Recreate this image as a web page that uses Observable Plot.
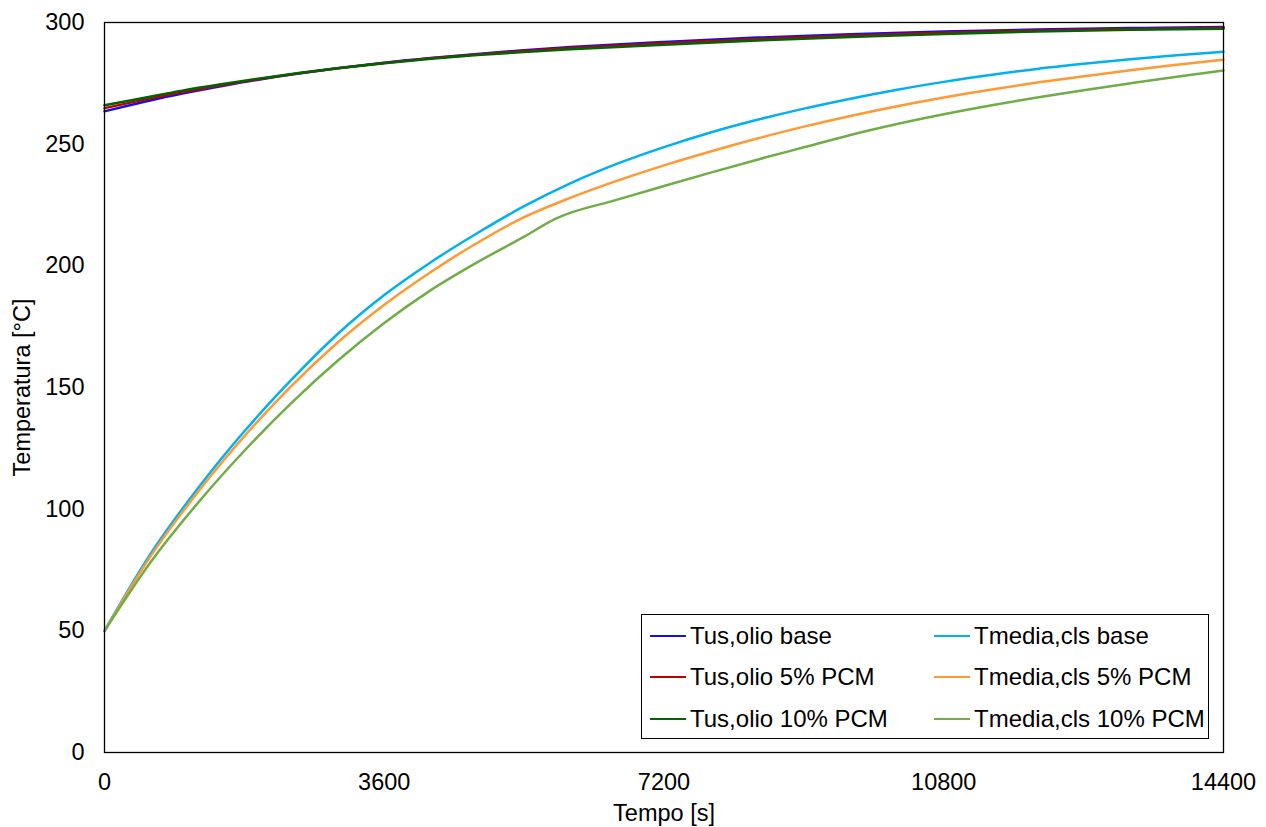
<!DOCTYPE html>
<html>
<head>
<meta charset="utf-8">
<script src="https://cdn.jsdelivr.net/npm/d3@7"></script>
<script src="https://cdn.jsdelivr.net/npm/@observablehq/plot@0.6"></script>
<style>
  body { margin: 0; background: #fff; }
  #wrap { position: relative; width: 1266px; height: 827px; font-family: 'Liberation Sans', Arial, sans-serif; }
  #legend { position: absolute; left: 641px; top: 614px; width: 568px; height: 125px; border: 1.3px solid #000; background: #fff; box-sizing: border-box; }
  .item { position: absolute; display: flex; align-items: center; font-size: 24px; color: #000; white-space: nowrap; }
  .sw { width: 36px; height: 2.5px; margin-right: 4px; }
</style>
</head>
<body>
<div id="wrap"><div id="legend"></div></div>
<script>
// ---- data ----
const xTicks = [0, 3600, 7200, 10800, 14400];
const yTicks = [0, 50, 100, 150, 200, 250, 300];

const seriesNames = ["Tus,olio base", "Tus,olio 5% PCM", "Tus,olio 10% PCM",
                     "Tmedia,cls base", "Tmedia,cls 5% PCM", "Tmedia,cls 10% PCM"];
const seriesColors = ["#1010E8", "#C00000", "#006400", "#00B0F0", "#FF9933", "#70AD47"];

const tUpper = [0, 500, 1000, 1500, 2000, 2500, 3000, 3600, 4200, 4800, 5400, 6000, 7200, 8400, 9600, 10800, 12000, 13200, 14400];
const tusBase = [263.5, 267.3, 270.8, 273.8, 276.6, 279.0, 281.2, 283.5, 285.4, 287.1, 288.6, 289.9, 292.0, 293.8, 295.2, 296.3, 297.1, 297.7, 298.2];
const tus5    = [264.8, 268.2, 271.4, 274.2, 276.8, 279.1, 281.2, 283.4, 285.3, 286.9, 288.3, 289.5, 291.5, 293.2, 294.6, 295.8, 296.7, 297.3, 297.8];
const tus10   = [266.0, 269.0, 272.0, 274.6, 277.0, 279.2, 281.2, 283.3, 285.1, 286.6, 287.9, 289.0, 290.9, 292.6, 294.0, 295.3, 296.3, 297.0, 297.4];

const tLower = [0, 600, 1200, 1800, 2400, 3000, 3600, 4200, 4800, 5400, 6000, 6600, 7200, 7800, 8400, 9000, 9600, 10200, 10800, 11400, 12000, 12600, 13200, 13800, 14400];
const clsBase = [50, 82, 108.5, 132, 153, 172, 188, 201.5, 213.5, 224.5, 234, 242, 248.8, 254.8, 260, 264.6, 268.7, 272.4, 275.6, 278.4, 280.9, 283, 284.9, 286.5, 288];
const cls5    = [50, 81, 107, 130, 150.5, 168.5, 184, 197.5, 209.5, 220, 228, 235, 241.3, 247, 252.3, 257.2, 261.6, 265.6, 269.2, 272.4, 275.3, 277.9, 280.4, 282.6, 284.7];
const t10     = [0, 600, 1200, 1800, 2400, 3000, 3600, 4200, 4800, 5400, 5800, 6600, 7200, 7800, 8500, 9000, 9600, 10200, 10800, 11400, 12000, 12600, 13200, 13800, 14400];
const cls10   = [50, 78.5, 102.5, 124, 143.5, 161, 176.5, 190, 201.5, 212, 219.3, 227.2, 232.8, 238.3, 244.5, 248.7, 253.8, 258.3, 262.3, 265.9, 269.2, 272.2, 275, 277.7, 280.3];

// ---- build table ----
const seriesData = [
  [tUpper, tusBase], [tUpper, tus5], [tUpper, tus10],
  [tLower, clsBase], [tLower, cls5], [t10, cls10]
];
const rows = seriesData.flatMap(([ts, vs], i) => ts.map((t, j) => ({t, T: vs[j], series: seriesNames[i]})));

const fmt = d => String(d);
const chart = Plot.plot({
  width: 1266, height: 827,
  marginLeft: 104, marginRight: 43, marginTop: 22, marginBottom: 75,
  style: {fontFamily: "'Liberation Sans', Arial, sans-serif", fontSize: "23.5px", color: "#000", background: "#fff", overflow: "visible"},
  x: {domain: [0, 14400]},
  y: {domain: [0, 300]},
  color: {domain: seriesNames, range: seriesColors},
  marks: [
    Plot.axisX({ticks: xTicks, tickSize: 0, tickPadding: 21, tickFormat: fmt, label: "Tempo [s]", labelAnchor: "center", labelArrow: "none", labelOffset: 68}),
    Plot.axisY({ticks: yTicks, tickSize: 0, tickPadding: 20, tickFormat: fmt, label: "Temperatura [°C]", labelAnchor: "center", labelArrow: "none", labelOffset: 91}),
    Plot.line(rows, {x: "t", y: "T", z: "series", stroke: "series", strokeWidth: 2.5, curve: "monotone-x"}),
    Plot.frame({stroke: "#000", strokeWidth: 1.3})
  ]
});
document.getElementById("wrap").prepend(chart);

// ---- legend ----
const legend = document.getElementById("legend");
const colX = [8, 292];
const rowY = [21, 62, 104];
seriesNames.forEach((name, i) => {
  const col = Math.floor(i / 3), row = i % 3;
  const el = document.createElement("div");
  el.className = "item";
  el.style.left = colX[col] + "px";
  el.style.top = (rowY[row] - 15) + "px";
  el.style.height = "30px";
  el.innerHTML = `<span class="sw" style="background:${seriesColors[i]}"></span><span>${name}</span>`;
  legend.appendChild(el);
});
</script>
</body>
</html>
